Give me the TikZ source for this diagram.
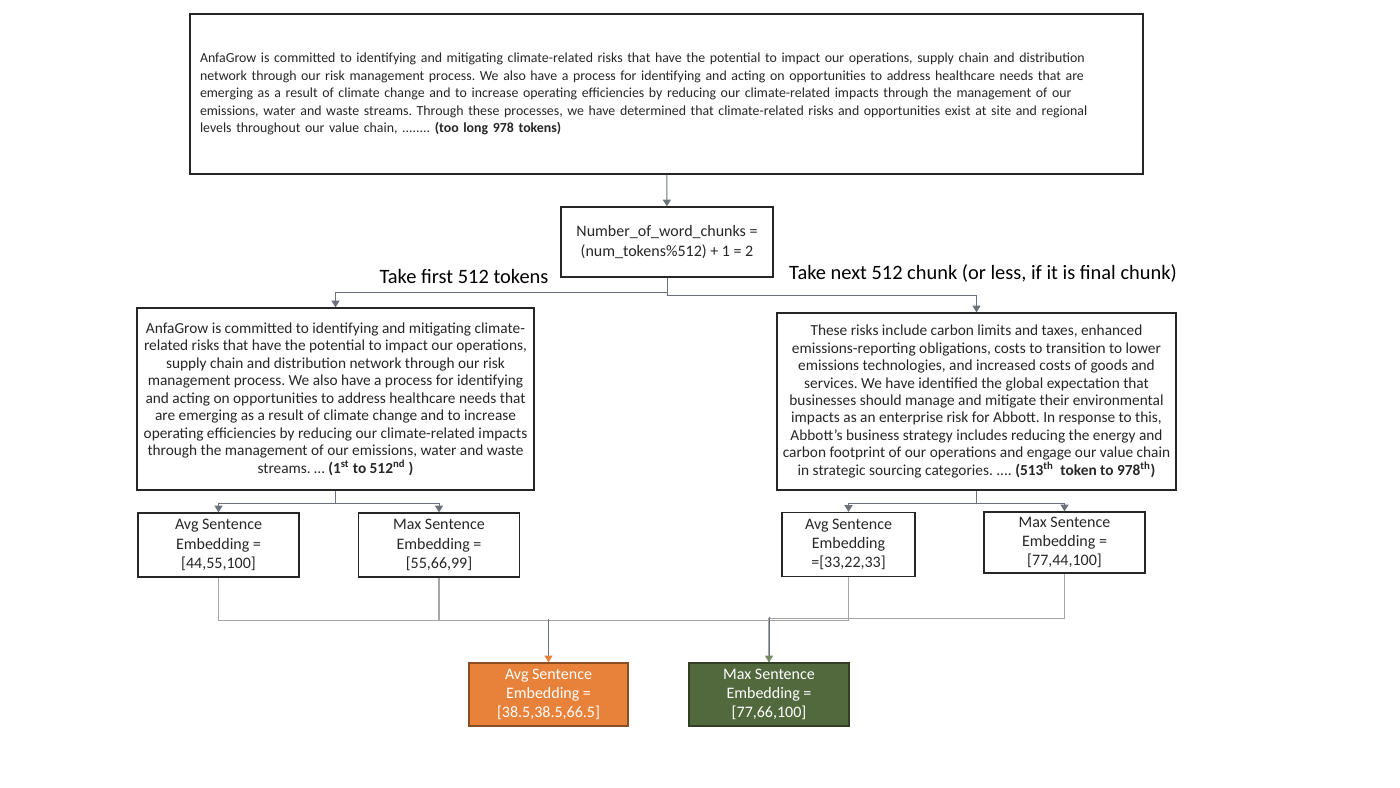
\documentclass[tikz,border=0pt]{standalone}
\usepackage{fontspec}
\setmainfont{Carlito}
\usetikzlibrary{arrows.meta}
\definecolor{linegray}{HTML}{6B727C}
\definecolor{softgray}{HTML}{A6A6A6}
\definecolor{boxorange}{HTML}{E8823A}
\definecolor{boxgreen}{HTML}{52693E}
\frenchspacing
\hyphenpenalty=10000
\begin{document}
\begin{tikzpicture}[x=0.75pt,y=-0.75pt,
  every node/.style={align=center,font=\fontsize{11}{13.1}\selectfont,text=black!85},
  box/.style={draw=black!85,line width=1pt,inner sep=0pt},
  small/.style={box,font=\fontsize{12}{14.4}\selectfont,minimum width=120.75pt,minimum height=48pt},
  takelabel/.style={font=\fontsize{15.3}{18}\selectfont,text=black},
  arr/.style={draw=linegray,line width=0.75pt,-{Triangle[width=6pt,length=5pt]}},
  joinline/.style={draw=softgray,line width=0.9pt}]
\useasboundingbox (0,0) rectangle (1400,788);
\node (text) [box,line width=1.3pt,align=left,text width=699.75pt,inner sep=7.5pt,minimum height=120pt,font=\fontsize{10.4}{13.1}\selectfont] at (666.5,94)
  {AnfaGrow is committed to identifying and mitigating climate-related risks that have the potential to impact our operations, supply chain and distribution\\
   network through our risk management process. We also have a process for identifying and acting on opportunities to address healthcare needs that are\\
   emerging as a result of climate change and to increase operating efficiencies by reducing our climate-related impacts through the management of our\\
   emissions, water and waste streams. Through these processes, we have determined that climate-related risks and opportunities exist at site and regional\\
   levels throughout our value chain, ........ \textbf{(too long 978 tokens)}};
\node (chunks) [box,minimum width=159pt,minimum height=52.5pt,font=\fontsize{12}{14.4}\selectfont] at (667,242)
  {Number\_of\_word\_chunks =\\(num\_tokens\%512) + 1 = 2};
\node (first) [takelabel] at (464,276) {Take first 512 tokens};
\node (next) [takelabel] at (983,273) {Take next 512 chunk (or less, if it is final chunk)};
\node (left) [box,minimum width=297.75pt,minimum height=136.5pt,font=\fontsize{11.5}{13.1}\selectfont] at (335.5,399)
  {AnfaGrow is committed to identifying and mitigating climate-\\
   related risks that have the potential to impact our operations,\\
   supply chain and distribution network through our risk\\
   management process. We also have a process for identifying\\
   and acting on opportunities to address healthcare needs that\\
   are emerging as a result of climate change and to increase\\
   operating efficiencies by reducing our climate-related impacts\\
   through the management of our emissions, water and waste\\
   streams. \dots\ \textbf{(1\textsuperscript{st} to 512\textsuperscript{nd} )}};
\node (right) [box,minimum width=299.25pt,minimum height=132.75pt,font=\fontsize{11.5}{13.1}\selectfont] at (976.5,401.5)
  {These risks include carbon limits and taxes, enhanced\\
   emissions-reporting obligations, costs to transition to lower\\
   emissions technologies, and increased costs of goods and\\
   services. We have identified the global expectation that\\
   businesses should manage and mitigate their environmental\\
   impacts as an enterprise risk for Abbott. In response to this,\\
   Abbott's business strategy includes reducing the energy and\\
   carbon footprint of our operations and engage our value chain\\
   in strategic sourcing categories. .... \textbf{(513\textsuperscript{th}\ \ token to 978\textsuperscript{th})}};
\node (avgL) [small] at (218.5,545) {Avg Sentence\\Embedding =\\{}[44,55,100]};
\node (maxL) [small] at (439,545) {Max Sentence\\Embedding =\\{}[55,66,99]};
\node (avgR) [small,minimum width=99.75pt] at (848.5,544.5) {Avg Sentence\\Embedding\\={}[33,22,33]};
\node (maxR) [small,minimum height=45.75pt] at (1064.5,542.5) {Max Sentence\\Embedding =\\{}[77,44,100]};
\node (avgOut) [small,fill=boxorange,draw=boxorange!60!black,text=white,minimum width=119.25pt,minimum height=47.25pt] at (548.5,694.5)
  {Avg Sentence\\Embedding =\\{}[38.5,38.5,66.5]};
\node (maxOut) [small,fill=boxgreen,draw=boxgreen!60!black,text=white,minimum width=120pt,minimum height=47.25pt] at (769,694.5)
  {Max Sentence\\Embedding =\\{}[77,66,100]};
\draw [arr] (text) -- (chunks);
\draw [arr] (chunks.south) -- ++(0,15) -| (left.north);
\draw [arr] (chunks.south) -- ++(0,18) -| (right.north);
\draw [arr] (left.south) -- ++(0,13) -| (avgL.north);
\draw [arr] (left.south) -- ++(0,13) -| (maxL.north);
\draw [arr] (right.south) -- ++(0,13) -| (avgR.north);
\draw [arr] (right.south) -- ++(0,13) -| (maxR.north);
\draw [joinline] (avgL.south) -- ++(0,43) -| (avgOut.north);
\draw [joinline] (avgR.south) -- ++(0,43) -| (avgOut.north);
\draw [joinline] (maxL.south) -- ++(0,43) -| (maxOut.north);
\draw [joinline] (maxR.south) -- ++(0,45) -| (maxOut.north);
\draw [arr,-{Triangle[width=6pt,length=5pt,color=boxorange]}] (avgOut.north) ++(0,-43) -- (avgOut.north);
\draw [arr,-{Triangle[width=6pt,length=5pt,color=boxgreen!80]}] (maxOut.north) ++(0,-45) -- (maxOut.north);
\end{tikzpicture}
\end{document}
